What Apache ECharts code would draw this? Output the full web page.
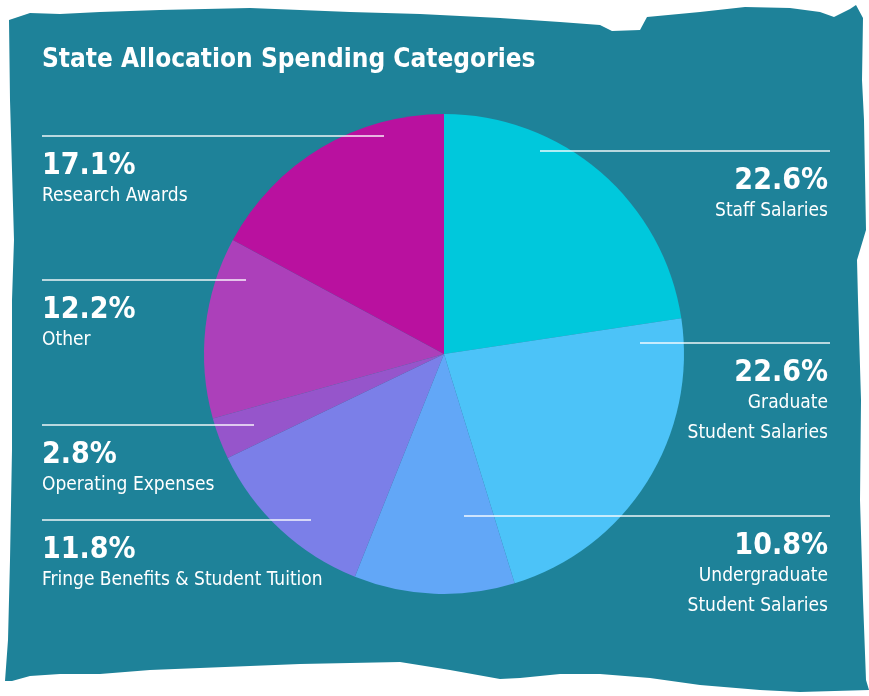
<!DOCTYPE html>
<html>
<head>
<meta charset="utf-8">
<title>State Allocation Spending Categories</title>
<script src="https://cdn.jsdelivr.net/npm/echarts@6/dist/echarts.min.js"></script>
<style>
  html, body { margin: 0; padding: 0; background: #fff; }
  #chart { width: 869px; height: 696px; }
</style>
</head>
<body>
<div id="chart"></div>
<script>
// data, clockwise from 12 o'clock
var categories = [
  'Staff Salaries',
  'Graduate\nStudent Salaries',
  'Undergraduate\nStudent Salaries',
  'Fringe Benefits & Student Tuition',
  'Operating Expenses',
  'Other',
  'Research Awards'
]
var shares = [22.6, 22.6, 10.8, 11.8, 2.8, 12.2, 17.1]
var sliceColors = ['#00c8dc', '#4cc3f8', '#62a7f7', '#7b7fe8', '#9655cb', '#ac40ba', '#b9119f']

// where each label sits: [lineY, lineStartX, lineEndX, side]
var labelSpots = [
  [151, 540, 830, 'right'],
  [343, 640, 830, 'right'],
  [516, 464, 830, 'right'],
  [520, 311, 42, 'left'],
  [425, 254, 42, 'left'],
  [280, 246, 42, 'left'],
  [136, 384, 42, 'left']
]

var FONT = '"Liberation Sans Narrow", "DejaVu Sans Condensed", sans-serif'

// torn paper backdrop
var paper = [
  [9, 20], [30, 13], [60, 14], [100, 12], [160, 10], [250, 8], [350, 12], [420, 14],
  [500, 18], [560, 22], [600, 25], [612, 31], [640, 30], [647, 17], [700, 12], [745, 7],
  [790, 8], [820, 12], [834, 17], [850, 9], [856, 5], [863, 18], [862, 80], [864, 120],
  [866, 230], [857, 260], [858, 300], [861, 400], [860, 500], [863, 600], [866, 680],
  [869, 690], [800, 692], [760, 690], [700, 685], [650, 678], [600, 674], [560, 674],
  [520, 678], [500, 679], [450, 670], [400, 662], [300, 664], [200, 668], [150, 670],
  [100, 674], [60, 674], [30, 676], [12, 681], [5, 681], [8, 640], [10, 560], [12, 450],
  [12, 300], [14, 240], [10, 100]
]

var chart = echarts.init(document.getElementById('chart'))

// leader lines sit on top of the slices, so draw them as graphics
var leaders = labelSpots.map(function (s) {
  return {
    type: 'line',
    z: 100,
    silent: true,
    shape: { x1: s[1], y1: s[0], x2: s[2], y2: s[0] },
    style: { stroke: 'rgba(255,255,255,0.92)', lineWidth: 1.5 }
  }
})

chart.setOption({
  backgroundColor: '#fff',
  animation: false,
  title: {
    text: 'State Allocation Spending Categories',
    left: 42,
    top: 47,
    padding: 0,
    textStyle: { color: '#fff', fontFamily: FONT, fontWeight: 'bold', fontSize: 26 }
  },
  graphic: [{
    type: 'polygon',
    z: -10,
    silent: true,
    shape: { points: paper },
    style: { fill: '#1e8299' }
  }].concat(leaders),
  series: [{
    type: 'pie',
    center: [444, 354],
    radius: 240,
    startAngle: 90,
    clockwise: true,
    avoidLabelOverlap: false,
    data: categories.map(function (name, i) {
      return { name: name, value: shares[i], itemStyle: { color: sliceColors[i] } }
    }),
    label: {
      show: true,
      position: 'outside',
      fontFamily: FONT,
      color: '#fff',
      formatter: function (p) {
        var lines = p.name.split('\n').map(function (s) { return '{name|' + s + '}' })
        return '{pct|' + p.value.toFixed(1) + '%}\n' + lines.join('\n')
      },
      rich: {
        pct: { fontFamily: FONT, fontSize: 30, fontWeight: 'bold', color: '#fff', lineHeight: 30 },
        name: { fontFamily: FONT, fontSize: 19, color: '#fff', lineHeight: 30 }
      }
    },
    labelLine: { show: false },
    labelLayout: function (params) {
      var s = labelSpots[params.dataIndex]
      var right = s[3] === 'right'
      return {
        x: right ? 828 : 42,
        y: s[0] + 15,
        align: right ? 'right' : 'left',
        verticalAlign: 'top'
      }
    },
    emphasis: { disabled: true }
  }]
})
</script>
</body>
</html>
